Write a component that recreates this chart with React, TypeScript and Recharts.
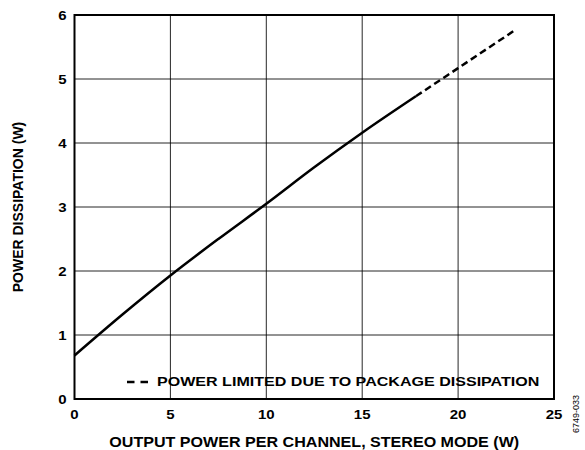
import { CartesianGrid, Label, Legend, Line, LineChart, ReferenceArea, XAxis, YAxis } from "recharts";

const outputPower = [0, 2.5, 5, 7.5, 10, 12.5, 15, 17.8, 20, 23];
const dissipationSolid = [0.68, 1.32, 1.93, 2.5, 3.05, 3.62, 4.16, 4.73, null, null];
const dissipationLimited = [null, null, null, null, null, null, null, 4.73, 5.17, 5.77];
const xTicks = [0, 5, 10, 15, 20, 25];
const yTicks = [0, 1, 2, 3, 4, 5, 6];

const data = outputPower.map((x, i) => ({
  x,
  solid: dissipationSolid[i],
  limited: dissipationLimited[i],
}));

const font = "'Liberation Sans', Arial, Helvetica, sans-serif";
const boldText = { fontFamily: font, fontWeight: "bold", fill: "#000" };

// the original artwork is stretched sideways a little, so text gets a scaleX
function XTick({ x, y, payload }: any) {
  return (
    <g transform={`translate(${x},${y})`}>
      <text textAnchor="middle" dy="0.75em" transform="scale(1.2,1)" style={{ ...boldText, fontSize: 12.5 }}>
        {payload.value}
      </text>
    </g>
  );
}

function YTick({ x, y, payload }: any) {
  return (
    <g transform={`translate(${x},${y})`}>
      <text textAnchor="end" dy="0.36em" transform="scale(1.2,1)" style={{ ...boldText, fontSize: 12.5 }}>
        {payload.value}
      </text>
    </g>
  );
}

function XTitle({ viewBox }: any) {
  const cx = viewBox.x + viewBox.width / 2;
  const by = viewBox.y + viewBox.height - 3;
  return (
    <g transform={`translate(${cx},${by})`}>
      <text textAnchor="middle" transform="scale(1.11,1)" style={{ ...boldText, fontSize: 14.5 }}>
        OUTPUT POWER PER CHANNEL, STEREO MODE (W)
      </text>
    </g>
  );
}

function LegendNote() {
  return (
    <div style={{ display: "flex", alignItems: "center", fontFamily: font, fontWeight: "bold", fontSize: 13, color: "#000", whiteSpace: "nowrap" }}>
      <svg width={30} height={10}>
        <line x1={0} y1={5} x2={21} y2={5} stroke="#000" strokeWidth={2.5} strokeDasharray="7.5 6" />
      </svg>
      <span style={{ display: "inline-block", transform: "scaleX(1.235)", transformOrigin: "left center" }}>
        POWER LIMITED DUE TO PACKAGE DISSIPATION
      </span>
    </div>
  );
}

export default function App() {
  return (
    <div style={{ position: "absolute", left: 0, top: 0, width: 585, height: 450, background: "#fff" }}>
      <LineChart width={585} height={450} data={data} margin={{ top: 15, right: 31, bottom: 0, left: 0 }}>
        <CartesianGrid stroke="#000" strokeWidth={1} strokeOpacity={0.85} horizontalValues={yTicks} verticalValues={xTicks} />
        <XAxis
          dataKey="x"
          type="number"
          domain={[0, 25]}
          ticks={xTicks}
          tickLine={false}
          axisLine={false}
          tickMargin={5}
          height={51}
          tick={<XTick />}
        >
          <Label content={<XTitle />} position="insideBottom" />
        </XAxis>
        <YAxis
          type="number"
          domain={[0, 6]}
          ticks={yTicks}
          tickLine={false}
          axisLine={false}
          width={74.5}
          tick={<YTick />}
        >
          <Label
            value="POWER DISSIPATION (W)"
            position="insideLeft"
            angle={-90}
            offset={18}
            style={{ ...boldText, textAnchor: "middle", fontSize: 14 }}
          />
        </YAxis>
        <ReferenceArea x1={0} x2={25} y1={0} y2={6} stroke="#000" strokeWidth={2} fill="none" fillOpacity={0} />
        <Line
          type="monotone"
          dataKey="solid"
          stroke="#000"
          strokeWidth={2.5}
          dot={false}
          connectNulls={false}
          isAnimationActive={false}
        />
        <Line
          type="monotone"
          dataKey="limited"
          stroke="#000"
          strokeWidth={2.5}
          strokeDasharray="7 4"
          dot={false}
          connectNulls={false}
          isAnimationActive={false}
        />
        <Legend
          layout="horizontal"
          verticalAlign="middle"
          align="center"
          content={() => <LegendNote />}
          wrapperStyle={{ position: "absolute", left: 127, top: 374, width: "auto" }}
        />
      </LineChart>
      <div
        style={{
          position: "absolute",
          left: 576,
          top: 414,
          transform: "translate(-50%, -50%) rotate(-90deg)",
          fontFamily: font,
          fontSize: 9,
          color: "#000",
          whiteSpace: "nowrap",
        }}
      >
        6749-033
      </div>
    </div>
  );
}
